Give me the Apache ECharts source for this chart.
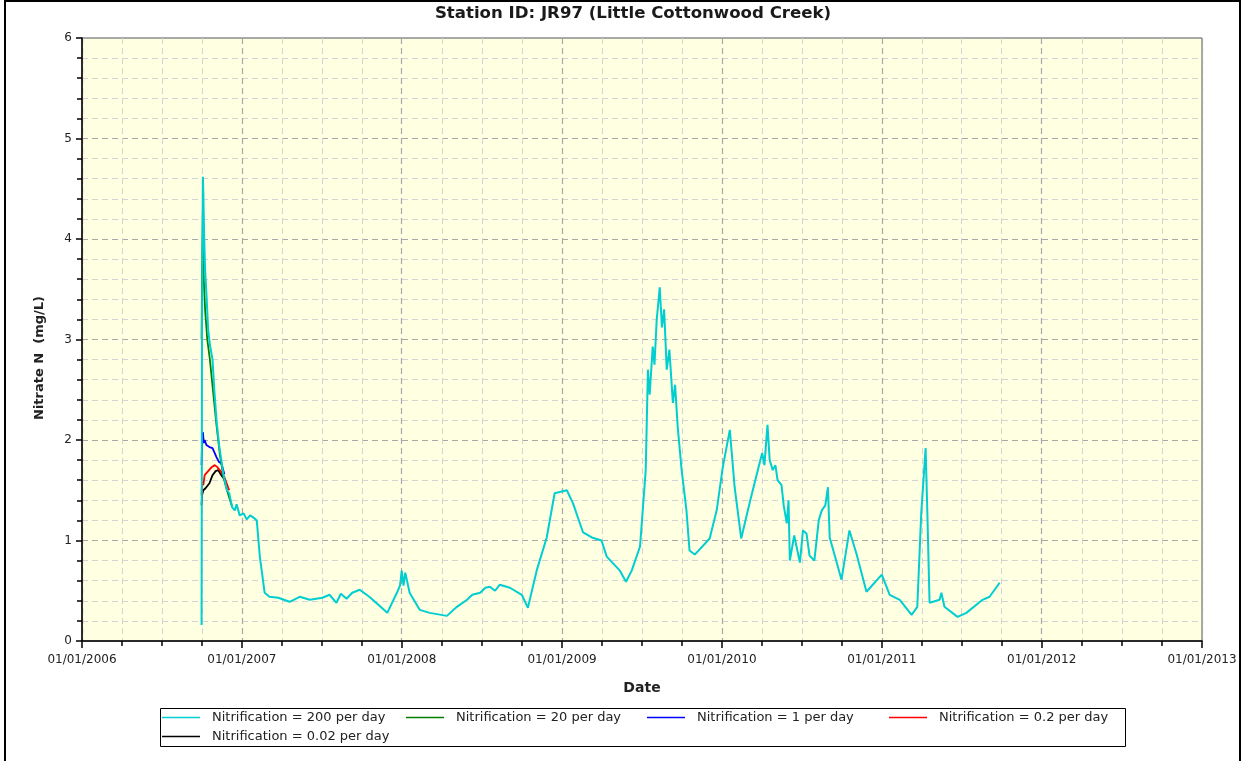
<!DOCTYPE html>
<html lang="en">
<head>
<meta charset="UTF-8">
<title>Station ID: JR97 (Little Cottonwood Creek)</title>
<script src="https://cdn.jsdelivr.net/npm/echarts@6/dist/echarts.min.js"></script>
<style>html,body{margin:0;padding:0;background:#fff;}</style>
</head>
<body>
<div id="main" style="width:1246px;height:761px;"></div>
<script type="text/javascript">
// series names (legend order)
var seriesNames = [
    'Nitrification = 200 per day',
    'Nitrification = 20 per day',
    'Nitrification = 1 per day',
    'Nitrification = 0.2 per day',
    'Nitrification = 0.02 per day'
];
var seriesColors = ['#00CED1', '#008000', '#0000FF', '#FF0000', '#000000'];

// Nitrification = 200 per day  [date, mg/L]
var k200 = [
    ['2006-10-01', 0.16], ['2006-10-02', 3.2], ['2006-10-04', 4.62], ['2006-10-05', 4.45],
    ['2006-10-07', 4.0], ['2006-10-09', 3.7], ['2006-10-12', 3.46], ['2006-10-16', 3.1],
    ['2006-10-20', 2.95], ['2006-10-26', 2.8], ['2006-10-30', 2.5], ['2006-11-04', 2.2],
    ['2006-11-10', 1.95], ['2006-11-15', 1.8], ['2006-11-20', 1.65], ['2006-11-28', 1.5],
    ['2006-12-03', 1.47], ['2006-12-10', 1.33], ['2006-12-16', 1.30], ['2006-12-20', 1.36],
    ['2006-12-27', 1.25], ['2007-01-05', 1.27], ['2007-01-12', 1.21], ['2007-01-20', 1.25],
    ['2007-01-30', 1.22], ['2007-02-04', 1.20], ['2007-02-11', 0.84], ['2007-02-22', 0.48],
    ['2007-03-05', 0.44], ['2007-03-25', 0.43], ['2007-04-20', 0.39], ['2007-05-13', 0.44],
    ['2007-06-05', 0.41], ['2007-07-04', 0.43], ['2007-07-20', 0.46], ['2007-08-05', 0.38],
    ['2007-08-15', 0.47], ['2007-08-28', 0.42], ['2007-09-10', 0.48], ['2007-09-27', 0.51],
    ['2007-10-19', 0.44], ['2007-11-29', 0.28], ['2007-12-22', 0.49], ['2007-12-28', 0.55],
    ['2008-01-01', 0.70], ['2008-01-05', 0.55], ['2008-01-09', 0.68], ['2008-01-19', 0.48],
    ['2008-02-11', 0.31], ['2008-03-05', 0.28], ['2008-04-13', 0.25], ['2008-05-06', 0.34],
    ['2008-05-29', 0.41], ['2008-06-10', 0.46], ['2008-06-28', 0.48], ['2008-07-10', 0.53],
    ['2008-07-20', 0.54], ['2008-08-01', 0.50], ['2008-08-12', 0.56], ['2008-09-04', 0.53],
    ['2008-10-01', 0.46], ['2008-10-15', 0.33], ['2008-11-04', 0.70], ['2008-11-27', 1.03],
    ['2008-12-15', 1.47], ['2009-01-12', 1.50], ['2009-01-26', 1.37], ['2009-02-18', 1.08],
    ['2009-03-10', 1.03], ['2009-04-01', 1.00], ['2009-04-13', 0.84], ['2009-05-13', 0.70],
    ['2009-05-27', 0.59], ['2009-06-09', 0.70], ['2009-06-28', 0.94], ['2009-07-11', 1.7],
    ['2009-07-16', 2.7], ['2009-07-20', 2.45], ['2009-07-27', 2.93], ['2009-07-31', 2.75],
    ['2009-08-05', 3.19], ['2009-08-12', 3.52], ['2009-08-17', 3.12], ['2009-08-22', 3.3],
    ['2009-08-28', 2.7], ['2009-09-03', 2.9], ['2009-09-11', 2.37], ['2009-09-16', 2.55],
    ['2009-09-22', 2.13], ['2009-10-01', 1.7], ['2009-10-12', 1.3], ['2009-10-19', 0.9],
    ['2009-10-31', 0.86], ['2009-12-04', 1.02], ['2009-12-20', 1.3], ['2010-01-03', 1.73],
    ['2010-01-19', 2.1], ['2010-01-30', 1.53], ['2010-02-14', 1.02], ['2010-03-05', 1.37],
    ['2010-03-28', 1.77], ['2010-04-03', 1.87], ['2010-04-08', 1.75], ['2010-04-15', 2.15],
    ['2010-04-20', 1.8], ['2010-04-27', 1.7], ['2010-05-03', 1.75], ['2010-05-08', 1.6],
    ['2010-05-17', 1.55], ['2010-05-22', 1.35], ['2010-05-29', 1.17], ['2010-06-02', 1.4],
    ['2010-06-05', 0.8], ['2010-06-15', 1.05], ['2010-06-28', 0.78], ['2010-07-05', 1.1],
    ['2010-07-13', 1.07], ['2010-07-20', 0.85], ['2010-07-31', 0.8], ['2010-08-10', 1.2],
    ['2010-08-17', 1.3], ['2010-08-25', 1.35], ['2010-08-31', 1.53], ['2010-09-04', 1.03],
    ['2010-10-01', 0.61], ['2010-10-19', 1.1], ['2010-11-04', 0.87], ['2010-11-27', 0.49],
    ['2011-01-01', 0.66], ['2011-01-19', 0.46], ['2011-02-11', 0.41], ['2011-03-10', 0.26],
    ['2011-03-23', 0.34], ['2011-04-01', 1.27], ['2011-04-11', 1.92], ['2011-04-15', 1.27],
    ['2011-04-20', 0.38], ['2011-05-13', 0.41], ['2011-05-17', 0.48], ['2011-05-24', 0.34],
    ['2011-06-23', 0.24], ['2011-07-13', 0.28], ['2011-08-19', 0.41], ['2011-09-04', 0.44],
    ['2011-09-27', 0.58]
];

// Nitrification = 20 per day
var k20 = [
    ['2006-10-01', 3.0], ['2006-10-02', 3.6], ['2006-10-04', 4.3], ['2006-10-06', 3.6],
    ['2006-10-09', 3.3], ['2006-10-14', 3.0], ['2006-10-20', 2.8], ['2006-10-28', 2.45],
    ['2006-11-04', 2.15], ['2006-11-12', 1.85], ['2006-11-20', 1.63], ['2006-11-28', 1.5],
    ['2006-12-10', 1.33]
];

// Nitrification = 1 per day
var k1 = [
    ['2006-10-01', 1.75], ['2006-10-02', 1.95], ['2006-10-04', 2.08], ['2006-10-06', 1.97],
    ['2006-10-08', 2.0], ['2006-10-12', 1.95], ['2006-10-19', 1.93], ['2006-10-26', 1.92],
    ['2006-11-04', 1.83], ['2006-11-10', 1.78], ['2006-11-15', 1.77], ['2006-11-22', 1.66]
];

// Nitrification = 0.2 per day
var k02 = [
    ['2006-10-01', 1.45], ['2006-10-02', 1.58], ['2006-10-05', 1.55], ['2006-10-08', 1.65],
    ['2006-10-12', 1.67], ['2006-10-16', 1.66], ['2006-10-24', 1.73], ['2006-10-31', 1.75],
    ['2006-11-06', 1.73], ['2006-11-15', 1.68], ['2006-11-22', 1.63], ['2006-12-03', 1.5]
];

// Nitrification = 0.02 per day
var k002 = [
    ['2006-10-01', 1.35], ['2006-10-02', 1.45], ['2006-10-05', 1.5], ['2006-10-10', 1.52],
    ['2006-10-19', 1.57], ['2006-10-26', 1.65], ['2006-11-02', 1.69], ['2006-11-08', 1.70],
    ['2006-11-15', 1.65], ['2006-11-24', 1.60]
];

var allData = [k200, k20, k1, k02, k002];

var myChart = echarts.init(document.getElementById('main'));

function pad(n) { return (n < 10 ? '0' : '') + n; }

var FONT = 'DejaVu Sans';
var YEAR = 365 * 24 * 3600 * 1000;

// series drawn in reverse so the 200 per day line sits on top
var series = [];
for (var i = allData.length - 1; i >= 0; i--) {
    series.push({
        name: seriesNames[i],
        type: 'line',
        data: allData[i],
        symbol: 'none',
        showSymbol: false,
        color: seriesColors[i],
        lineStyle: { width: i === 0 ? 2 : 1.8, color: seriesColors[i] },
        animation: false
    });
}

// one legend per item so they line up like the original table
var legendSpots = [[162, 711], [406, 711], [647, 711], [889, 711], [162, 730]];
var legends = legendSpots.map(function (p, i) {
    return {
        data: [seriesNames[i]],
        left: p[0],
        top: p[1],
        padding: 0,
        icon: 'rect',
        itemWidth: 38,
        itemHeight: 1.5,
        selectedMode: false,
        z: 10,
        textStyle: { fontFamily: FONT, fontSize: 13, color: '#222', padding: [0, 0, 0, 7] }
    };
});

myChart.setOption({
    backgroundColor: '#ffffff',
    animation: false,
    graphic: [
        // outer frame
        { type: 'rect', z: 0, shape: { x: 5, y: 1, width: 1235, height: 800 },
          style: { fill: 'none', stroke: '#000', lineWidth: 2 } },
        // legend box
        { type: 'rect', z: 1, shape: { x: 160.5, y: 708.5, width: 965, height: 38 },
          style: { fill: '#fff', stroke: '#000', lineWidth: 1 } },
        // title
        { type: 'text', z: 5, x: 633, y: 5,
          style: { text: 'Station ID: JR97 (Little Cottonwood Creek)', fontFamily: FONT,
                   fontSize: 16.6, fontWeight: 'bold', fill: '#1a1a1a', textAlign: 'center' } },
        // y axis name
        { type: 'text', z: 5, x: 40, y: 358, rotation: Math.PI / 2,
          style: { text: 'Nitrate N  (mg/L)', fontFamily: FONT, fontSize: 13, fontWeight: 'bold',
                   fill: '#222', textAlign: 'center', textVerticalAlign: 'middle' } }
    ],
    grid: {
        left: 82, right: 44, top: 38, bottom: 120,
        show: true,
        backgroundColor: '#ffffe1',
        borderColor: '#555',
        borderWidth: 1
    },
    legend: legends,
    xAxis: {
        type: 'time',
        min: '2006-01-01',
        max: '2013-01-01',
        splitNumber: 7,
        minInterval: YEAR,
        maxInterval: YEAR + 24 * 3600 * 1000,
        name: 'Date',
        nameLocation: 'middle',
        nameGap: 40,
        nameTextStyle: { fontFamily: FONT, fontSize: 14, fontWeight: 'bold', color: '#222' },
        axisLine: { onZero: false, lineStyle: { color: '#000', width: 1.5 } },
        axisTick: { show: true, length: 7, lineStyle: { color: '#000', width: 1.5 } },
        minorTick: { show: true, splitNumber: 4, length: 5, lineStyle: { color: '#000', width: 1.5 } },
        axisLabel: {
            fontFamily: FONT, fontSize: 12, color: '#222', margin: 13,
            showMinLabel: true, showMaxLabel: true, hideOverlap: false,
            formatter: function (val) {
                var d = new Date(val);
                return pad(d.getMonth() + 1) + '/' + pad(d.getDate()) + '/' + d.getFullYear();
            }
        },
        splitLine: { show: true, lineStyle: { color: '#a8a8a8', type: [6, 4], width: 1.2 } },
        minorSplitLine: { show: true, lineStyle: { color: '#d4d4d4', type: [6, 4], width: 1 } }
    },
    yAxis: {
        type: 'value',
        min: 0,
        max: 6,
        interval: 1,
        axisLine: { show: true, lineStyle: { color: '#000', width: 1.5 } },
        axisTick: { show: true, length: 6, lineStyle: { color: '#000', width: 1.5 } },
        minorTick: { show: true, splitNumber: 5, length: 5, lineStyle: { color: '#000', width: 1.5 } },
        axisLabel: { fontFamily: FONT, fontSize: 12, color: '#222', margin: 10 },
        splitLine: { show: true, lineStyle: { color: '#a8a8a8', type: [6, 4], width: 1.2 } },
        minorSplitLine: { show: true, lineStyle: { color: '#d4d4d4', type: [6, 4], width: 1 } }
    },
    series: series
});
</script>
</body>
</html>
